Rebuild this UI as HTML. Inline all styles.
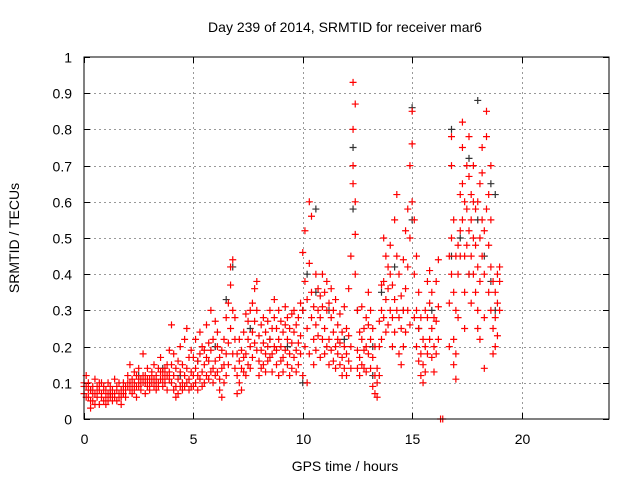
<!DOCTYPE html>
<html><head><meta charset="utf-8"><style>
body{margin:0;background:#fff;}
svg text{font-family:"Liberation Sans",sans-serif;font-size:14px;fill:#000;}
</style></head><body>
<svg id="chart" width="640" height="480" xmlns="http://www.w3.org/2000/svg">
<text x="345" y="32" text-anchor="middle">Day 239 of 2014, SRMTID for receiver mar6</text>
<text x="345" y="471" text-anchor="middle">GPS time / hours</text>
<text x="0" y="0" text-anchor="middle" transform="translate(19,238) rotate(-90)">SRMTID / TECUs</text>
<g id="grid"></g>
<g id="ticks"></g>
<g id="black-series"></g>
<g id="red-series"></g>
<rect x="84" y="57" width="525" height="362" fill="none" stroke="#000" stroke-width="1"/>
</svg>
<script>
const xTicks=[0,5,10,15,20];
const yTicks=[0,0.1,0.2,0.3,0.4,0.5,0.6,0.7,0.8,0.9,1];
const yTickLabels=["0","0.1","0.2","0.3","0.4","0.5","0.6","0.7","0.8","0.9","1"];
const redTimes=[0,0.1,0.2,0.3,0.4,0.5,0.6,0.7,0.8,0.9,1.0,1.1,1.2,1.3,1.4,1.5,1.6,1.7,1.8,1.9,2.0,2.1,2.2,2.3,2.4,2.5,2.6,2.7,2.8,2.9,3.0,3.1,3.2,3.3,3.4,3.5,3.6,3.7,3.8,3.9,4.0,4.1,4.2,4.3,4.4,4.5,4.6,4.7,4.8,4.9,5.0,5.1,5.2,5.3,5.4,5.5,5.6,5.7,5.8,5.9,6.0,6.1,6.2,6.3,6.4,6.5,6.6,6.7,6.8,6.9,7.0,7.1,7.2,7.3,7.4,7.5,7.6,7.7,7.8,7.9,8.0,8.1,8.2,8.3,8.4,8.5,8.6,8.7,8.8,8.9,9.0,9.1,9.2,9.3,9.4,9.5,9.6,9.7,9.8,9.9,10.0,10.1,10.2,10.3,10.4,10.5,10.6,10.7,10.8,10.9,11.0,11.1,11.2,11.3,11.4,11.5,11.6,11.7,11.8,11.9,12.0,12.1,12.2,12.3,12.4,12.5,12.6,12.7,12.8,12.9,13.0,13.1,13.2,13.3,13.4,13.5,13.6,13.7,13.8,13.9,14.0,14.1,14.2,14.3,14.4,14.5,14.6,14.7,14.8,14.9,15.0,15.1,15.2,15.3,15.4,15.5,15.6,15.7,15.8,15.9,16.0,16.1,16.2,16.3,16.4,16.7,16.8,16.9,17.0,17.1,17.2,17.3,17.4,17.5,17.6,17.7,17.8,17.9,18.0,18.1,18.2,18.3,18.4,18.5,18.6,18.7,18.8,18.9,19.0];
const redValues=[[.10,.07,.09],[.09,.12,.06],[.06,.10,.08],[.03,.08,.05],[.09,.05,.07],[.07,.11,.04],[.06,.09,.08],[.04,.08,.10],[.10,.06,.07],[.05,.09,.08],[.08,.04,.06],[.07,.10,.05],[.06,.09,.08],[.05,.08,.07],[.07,.11,.06],[.05,.09,.08],[.06,.10,.07],[.04,.08,.06],[.07,.10,.09],[.06,.09,.08],
[.09,.12,.10],[.08,.15,.10],[.07,.11,.09],[.10,.13,.08],[.06,.12,.09],[.09,.14,.11],[.08,.11,.10],[.10,.18,.12],[.07,.12,.10],[.09,.14,.11],[.11,.08,.10],[.13,.10,.12],[.09,.15,.11],[.12,.08,.10],[.10,.14,.09],[.11,.17,.13],[.09,.13,.11],[.12,.10,.14],[.08,.15,.12],[.11,.19,.13],
[.26,.15,.10],[.12,.08,.18],[.09,.14,.06],[.11,.16,.07],[.13,.09,.20],[.10,.15,.08],[.12,.22,.09],[.25,.14,.10],[.11,.17,.08],[.13,.09,.19],
[.12,.17,.09],[.14,.22,.10],[.08,.16,.12],[.18,.11,.24],[.13,.09,.20],[.15,.19,.10],[.12,.26,.17],[.16,.11,.21],[.19,.13,.30],[.14,.22,.10],[.27,.16,.12],[.20,.13,.24],[.11,.17,.08],[.06,.14,.19],[.10,.22,.15],[.18,.28,.12],[.21,.15,.32],
[.42,.37,.25],[.44,.30,.18],[.22,.14,.28],[.12,.07,.18],[.10,.16,.22],[.08,.14,.19],[.13,.24,.17],[.18,.29,.12],[.22,.15,.27],[.30,.20,.14],[.32,.24,.17],[.36,.27,.21],[.38,.30,.19],[.16,.23,.12],[.19,.26,.14],[.21,.15,.28],[.24,.18,.13],[.27,.20,.16],[.22,.30,.17],[.18,.25,.13],[.33,.20,.28],[.25,.19,.15],[.30,.22,.12],[.20,.27,.16],[.17,.24,.13],[.26,.19,.31],[.22,.15,.28],[.18,.25,.12],[.21,.14,.29],[.24,.30,.17],[.19,.13,.26],[.28,.21,.15],[.23,.32,.18],
[.46,.30,.12],[.52,.38,.20],[.10,.25,.33],[.60,.43,.18],[.56,.28,.35],[.22,.15,.31],[.40,.26,.19],[.36,.23,.30],[.28,.17,.34],[.40,.31,.22],[.35,.25,.18],[.38,.30,.20],[.32,.22,.15],[.28,.19,.36],[.24,.16,.30],[.20,.33,.14],[.26,.18,.22],[.21,.15,.29],[.17,.24,.12],[.20,.14,.31],[.18,.25,.12],[.23,.16,.36],[.45,.20,.14],[.93,.80,.65,.70],[.87,.60,.51,.40],[.19,.30,.14],[.24,.17,.12],[.22,.31,.15],[.14,.25,.19],[.20,.28,.13],[.26,.18,.35],[.22,.14,.30],[.17,.09,.25],[.12,.07,.20],[.06,.14,.10],[.20,.27,.12],[.30,.22,.37],[.38,.28,.50],[.45,.33,.24],[.42,.36,.26],[.48,.40,.30],[.37,.28,.20],[.55,.33,.24],[.62,.45,.30],[.40,.28,.18],[.34,.25,.15],[.30,.20,.44],[.52,.36,.24],[.58,.42,.30],[.70,.50,.26],[.85,.76,.60],[.55,.40,.28],[.45,.30,.20],[.25,.16,.35],[.18,.12,.28],[.22,.10,.15],[.30,.20,.13],[.28,.38,.18],[.32,.22,.41],[.25,.17,.35],[.20,.13,.28],[.38,.27,.18],[.44,.31,.22],[0,0],[0,0],
[.32,.20,.45],[.78,.70,.50,.40],[.55,.35,.22,.15],[.11,.18,.30,.45],[.40,.28,.48],[.62,.52,.45],[.75,.65,.82,.55],[.45,.35,.60,.25],[.58,.70,.48],[.67,.52,.40,.78],[.55,.45,.32,.62],[.70,.60,.50,.40],[.35,.48,.58],[.60,.42,.30,.25],[.50,.38,.22,.65],[.75,.68,.55,.45],[.52,.40,.28,.14],[.85,.78,.58],[.62,.48,.35],[.70,.55,.42,.30],[.25,.38,.18],[.35,.28,.20],[.40,.32,.23],[.38,.30,.42]];
const blackTimes=[0.3,1.2,2.5,3.6,4.4,5.2,6.0,6.5,6.8,7.6,8.5,9.3,10.0,10.2,10.6,11.2,11.9,12.3,12.5,13.2,13.6,14.2,14.6,15.0,15.3,15.9,16.8,17.2,17.6,18.0,18.3,18.6,18.8];
const blackValues=[[.08],[.07],[.12],[.14],[.12],[.16],[.20],[.33],[.42],[.25],[.22],[.20],[.10,.30],[.40],[.58,.35],[.30],[.22],[.75,.58],[.30],[.20,.12],[.35],[.42],[.30],[.86,.55],[.25],[.30],[.80,.45],[.50],[.72,.40],[.88,.55],[.45],[.65,.38],[.62,.30]];
const X=t=>84+t*(525/24);
const Y=v=>419-v*362;
const NS="http://www.w3.org/2000/svg";
const grid=document.getElementById('grid'),ticks=document.getElementById('ticks');
function line(g,x1,y1,x2,y2,st,dash){const l=document.createElementNS(NS,'line');l.setAttribute('x1',x1);l.setAttribute('y1',y1);l.setAttribute('x2',x2);l.setAttribute('y2',y2);l.setAttribute('stroke',st);if(dash)l.setAttribute('stroke-dasharray',dash);g.appendChild(l);return l;}
function text(g,x,y,s,anchor){const t=document.createElementNS(NS,'text');t.setAttribute('x',x);t.setAttribute('y',y);t.setAttribute('text-anchor',anchor);t.textContent=s;g.appendChild(t);return t;}
xTicks.forEach(t=>{const x=Math.round(X(t))+0.5;
 if(t>0){const gl=line(grid,x,57,x,419,'#999','2,3');
 
 }
 line(ticks,x,419,x,413,'#000');line(ticks,x,57,x,63,'#000');
 const lb=text(ticks,x,444,String(t),'middle');
 
 });
yTicks.forEach((v,i)=>{const y=Math.round(Y(v))+0.5;
 if(v>0&&v<1){const gl=line(grid,84,y,609,y,'#999','2,3');
 
 }
 line(ticks,84,y,90,y,'#000');line(ticks,609,y,603,y,'#000');
 const lb=text(ticks,72,y+5,yTickLabels[i],'end');
 
 });
function plot(gid,times,vals,color,name){const g=document.getElementById(gid);let d='';
 times.forEach((t,i)=>vals[i].forEach(v=>{const x=X(t),y=Y(v);d+=`M${x-3.5},${y}h7M${x},${y-3.5}v7`;}));
 const p=document.createElementNS(NS,'path');p.setAttribute('d',d);p.setAttribute('stroke',color);p.setAttribute('stroke-width','1.2');p.setAttribute('fill','none');
 
 
 g.appendChild(p);}
plot('black-series',blackTimes,blackValues,'#333','black-markers');
plot('red-series',redTimes,redValues,'#f00','red-markers');
</script>
</body></html>
